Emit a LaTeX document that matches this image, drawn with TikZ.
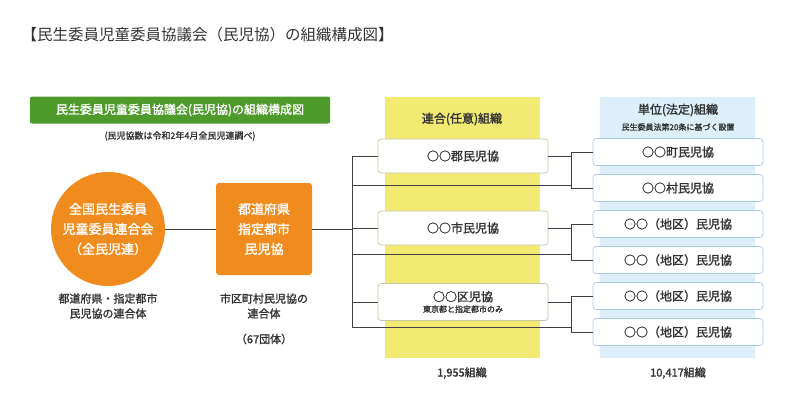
\documentclass[tikz,border=0pt]{standalone}
\usepackage{fontspec}
\setmainfont{Noto Sans CJK JP}[AutoFakeBold=1.6]
\definecolor{gr}{HTML}{4E9A2A}
\definecolor{org}{HTML}{F08C1E}
\definecolor{yel}{HTML}{F2EA73}
\definecolor{blu}{HTML}{DDEFFB}
\definecolor{bbord}{HTML}{A9CBE6}
\definecolor{ybord}{HTML}{C8C8A0}
\definecolor{txt}{HTML}{333333}
\begin{document}
\begin{tikzpicture}[x=1pt,y=-1pt,
  lab/.style={font=\bfseries\fontsize{10.5}{12}\selectfont,text=txt,align=center,inner sep=0},
  midbox/.style={draw=ybord,fill=white,rounded corners=3pt,minimum width=170,line width=0.7pt,text=txt,align=center,inner sep=0},
  rbox/.style={draw=bbord,fill=white,rounded corners=3pt,minimum width=170,minimum height=27,line width=0.7pt,text=txt,font=\bfseries\fontsize{12}{13}\selectfont,inner sep=0},
  ln/.style={draw=black!75,line width=0.7pt}]
\useasboundingbox (0,0) rectangle (800,418);
\node[anchor=west,text=txt,font=\fontsize{15.5}{18}\selectfont] (title) at (18,35) {【民生委員児童委員協議会（民児協）の組織構成図】};
\node[fill=gr,rounded corners=2pt,minimum width=300,minimum height=27,text=white,font=\bfseries\fontsize{12}{13}\selectfont] (banner) at (180,110) {民生委員児童委員協議会(民児協)の組織構成図};
\node[lab,font=\bfseries\fontsize{9}{10}\selectfont] (sub) at (180,136) {(民児協数は令和2年4月全民児連調べ)};
\fill[yel] (385,97) rectangle (540,358);
\fill[blu] (600,97) rectangle (755,358);
\node[lab,font=\bfseries\fontsize{12}{13}\selectfont] (h1) at (462,119) {連合(任意)組織};
\node[lab,font=\bfseries\fontsize{12}{13}\selectfont] (h2) at (678,110) {単位(法定)組織};
\node[lab,font=\bfseries\fontsize{8}{9}\selectfont] (h2s) at (678,127) {民生委員法第20条に基づく設置};
\node[circle,fill=org,minimum size=114,text=white,align=center,font=\bfseries\fontsize{13}{20}\selectfont,inner sep=0] (zen) at (108,229) {全国民生委員\\児童委員連合会\\（全民児連）};
\node[lab,font=\bfseries\fontsize{11}{15}\selectfont] (zenl) at (108,306) {都道府県・指定都市\\民児協の連合体};
\node[fill=org,rounded corners=3pt,minimum width=96,minimum height=92,text=white,align=center,font=\bfseries\fontsize{13}{20}\selectfont] (ken) at (264,229) {都道府県\\指定都市\\民児協};
\node[lab,font=\bfseries\fontsize{11}{15}\selectfont] (kenl) at (264,306) {市区町村民児協の\\連合体};
\node[lab,font=\bfseries\fontsize{11}{12}\selectfont] (kenn) at (264,339) {（67団体）};
\coordinate (vt) at (352,156); \coordinate (vb) at (352,327);
\draw[ln] (zen.east) -- (ken.west);
\draw[ln] (ken.east) -- (352,229);
\draw[ln] (vt) -- (vb);
\draw[ln] (352,185) -- (571,185);
\draw[ln] (352,254) -- (571,254);
\draw[ln] (352,327) -- (571,327);
\node[midbox,minimum height=34,font=\bfseries\fontsize{12}{13}\selectfont] (gun) at (463,156) {○○郡民児協};
\node[midbox,minimum height=34,font=\bfseries\fontsize{12}{13}\selectfont] (shi) at (463,228) {○○市民児協};
\node[midbox,minimum height=37] (ku) at (463,302) {\bfseries\fontsize{12}{13}\selectfont ○○区児協\\[-1pt]\bfseries\fontsize{8}{9}\selectfont 東京都と指定都市のみ};
\node[rbox] (r1) at (678,152) {○○町民児協};
\node[rbox] (r2) at (678,188) {○○村民児協};
\node[rbox] (r3) at (678,224) {○○（地区）民児協};
\node[rbox] (r4) at (678,260) {○○（地区）民児協};
\node[rbox] (r5) at (678,296) {○○（地区）民児協};
\node[rbox] (r6) at (678,332) {○○（地区）民児協};
\node[lab,font=\bfseries\fontsize{11}{12}\selectfont] (c1) at (462,373) {1,955組織};
\node[lab,font=\bfseries\fontsize{11}{12}\selectfont] (c2) at (678,373) {10,417組織};
\draw[ln] (vt) -- (gun.west);
\draw[ln] (352,228) -- (shi.west);
\draw[ln] (352,302) -- (ku.west);
\foreach \m/\a/\b in {gun/r1/r2,shi/r3/r4,ku/r5/r6}{
  \draw[ln] (\m.east) -- (571,0 |- \m.east);
  \draw[ln] (571,0 |- \a.west) -- (571,0 |- \b.west);
  \draw[ln] (571,0 |- \a.west) -- (\a.west);
  \draw[ln] (571,0 |- \b.west) -- (\b.west);
}
\end{tikzpicture}
\end{document}
